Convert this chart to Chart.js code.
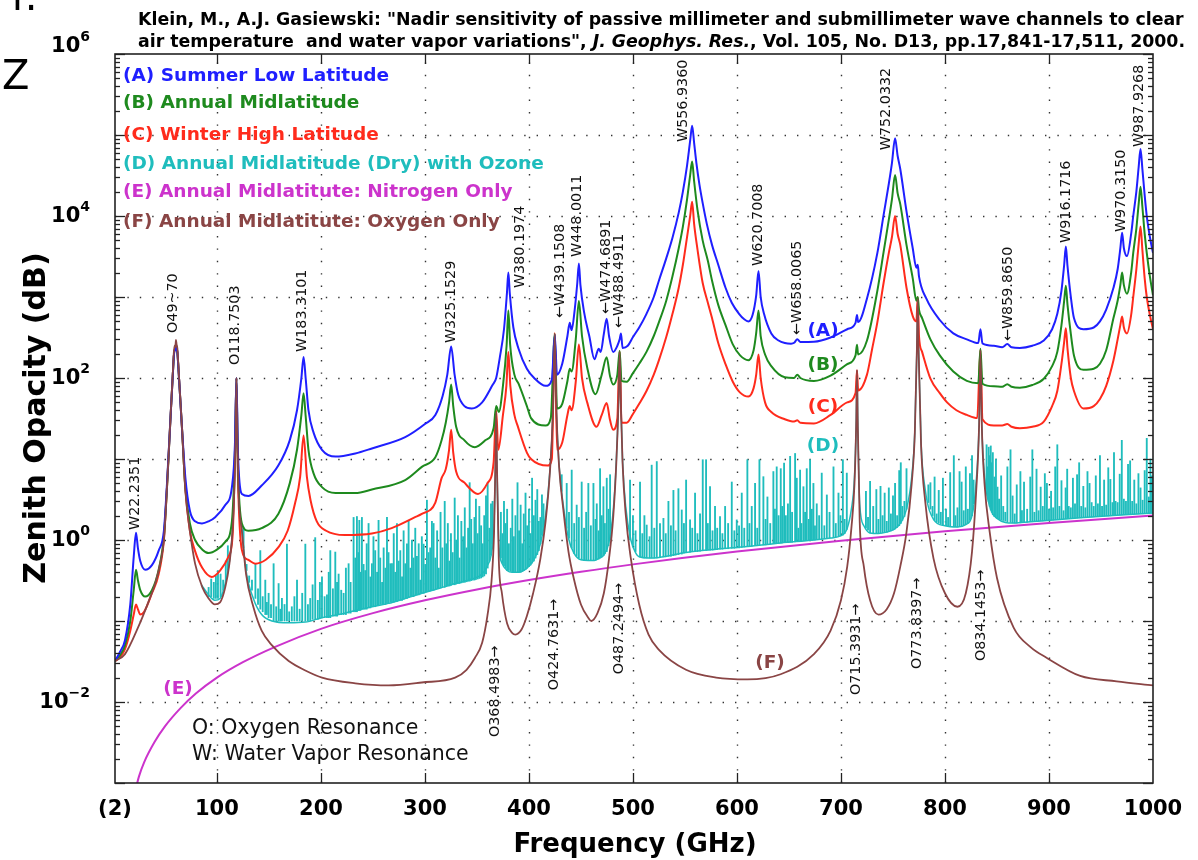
<!DOCTYPE html>
<html>
<head>
<meta charset="utf-8">
<title>Nadir zenith opacity</title>
<script src="https://cdn.jsdelivr.net/npm/chart.js@4.4.1/dist/chart.umd.min.js"></script>
<style>
  html, body { margin: 0; padding: 0; background: #fff; overflow: hidden; }
  canvas { display: block; }
</style>
</head>
<body>
<canvas id="myChart" width="1198" height="860"></canvas>
<script>
// tick positions on the frequency axis (GHz)
const xTickValues = [2, 100, 200, 300, 400, 500, 600, 700, 800, 900, 1000];
// decades that carry a label on the opacity axis
const yLabelDecades = [6, 4, 2, 0, -2];

// (A) Summer Low Latitude  [GHz, dB]
const seriesA = [[2,0.032],[7,0.042],[11.6,0.058],[16.7,0.16],[20,0.62],[22.2,1.23],[24,0.8],[26.3,0.55],[31,0.43],[37.5,0.49],[44,0.74],[49,1.3],[52,5],[55.4,33],[57.5,105],[58.5,180],[59.3,225],[60,220],[60.6,260],[61.2,235],[62,205],[63,130],[64,80],[66.5,23],[69.6,6],[74,2.3],[79,1.7],[85.6,1.6],[92,1.7],[98,1.9],[108,2.7],[114.4,4.5],[117.3,15],[118.75,100],[120.2,12],[124,3.7],[130.4,3.5],[143,4.7],[159,8.3],[170,17],[177,40],[181.2,100],[183.3,182],[185.3,100],[188,40],[193,21],[201,13],[214,10.7],[233,11.7],[249,13.5],[281,18.6],[300,27],[310,35],[317,60],[321.5,110],[325.2,245],[328.5,110],[332,62],[338,45],[345,42],[355,50],[365,82],[368.5,100],[372,180],[376,400],[378.8,1100],[380.2,2000],[381.6,1100],[385,420],[390,230],[398,130],[405,100],[416,80],[422,95],[424.8,340],[427,110],[432,150],[437,330],[439.2,480],[441,390],[444,700],[446.5,1500],[448,2600],[449.5,1400],[453,650],[458,330],[463,170],[467,230],[469,210],[472,350],[474.7,540],[477,330],[481,210],[485,250],[487.2,300],[488.5,355],[490,235],[495,250],[500,320],[506,420],[513,620],[520,1000],[525,1600],[532,3000],[538,5400],[544,11000],[548,20000],[552,42000],[555,85000],[556.9,130000],[558.8,80000],[561,45000],[564,24000],[567,14500],[571,8000],[576,4400],[582,2500],[589,1300],[595,850],[602,620],[607,530],[611,500],[615,600],[618.5,1050],[620.7,2100],[622.8,1000],[626,620],[633,355],[640,290],[646,270],[652,265],[655,272],[658,300],[661,278],[674,280],[690,316],[706,400],[714,480],[715.4,600],[716.5,490],[725,960],[735,3500],[741,10300],[746,25000],[749,45000],[752,91000],[754.5,55000],[757,38000],[763,11400],[769,4000],[772.5,2300],[773.8,2500],[775,1800],[782,960],[795,520],[808,355],[821,300],[832,270],[834.1,400],[836,268],[847,250],[855,240],[859.9,262],[864,240],[872,235],[884,250],[895,290],[903,400],[908,620],[912,1200],[914.6,2500],[916.2,4200],[917.8,2400],[921,1000],[924,550],[933,400],[943,420],[949,500],[955,700],[962,1300],[966,2200],[968.6,4000],[970.3,6200],[972,4000],[975,3200],[979,6000],[981,10000],[984,20000],[986.2,40000],[988,67000],[989.8,38000],[992,18000],[994,10000],[997,5500],[1000,3500]];

// (B) Annual Midlatitude
const seriesB = [[2,0.032],[7,0.038],[11.6,0.05],[16.7,0.10],[20,0.24],[22.2,0.43],[24,0.32],[26.3,0.24],[31,0.2],[37.5,0.24],[44,0.43],[49,1.1],[52,4.5],[55.4,33],[57.5,105],[58.5,180],[59.3,225],[60,220],[60.6,255],[61.2,235],[62,205],[63,130],[64,80],[66.5,23],[69.6,4.5],[74,1.6],[79,1.0],[86,0.76],[92,0.69],[100,0.76],[108,0.95],[114.4,1.7],[117.3,12],[118.75,100],[120.2,8],[124,1.6],[130,1.3],[143,1.4],[159,2.1],[170,5],[177,13],[181.2,35],[183.3,65],[185.3,34],[188,13],[193,6.6],[201,4.5],[214,3.8],[233,3.8],[249,4.2],[281,5.5],[297,8],[310,10.5],[316,17],[320,28],[323.2,50],[325.2,83],[327.2,45],[330,25],[338,17],[348,14],[358,17],[366,24],[368.5,45],[371,38],[375,80],[378.5,250],[380.2,680],[381.9,260],[386,110],[390,85],[398,45],[402,32],[416,26],[421,32],[424.8,350],[427,42],[432,48],[437,92],[439.2,130],[441,120],[445,300],[448,890],[451,330],[456,135],[464,63],[470,110],[474.7,180],[478,105],[481,83],[485,110],[487.2,215],[489,92],[494,90],[500,115],[506,150],[513,210],[520,330],[525,490],[532,900],[538,1800],[544,4000],[548,7400],[552,16000],[555,32000],[556.9,47000],[558.8,27000],[562,12000],[567,5000],[572,2800],[576,1600],[582,800],[589,450],[596,260],[603,190],[611,166],[616,220],[618.5,360],[620.7,680],[622.8,330],[627,195],[633,140],[646,102],[655,100],[658,110],[661,100],[674,92],[690,107],[706,148],[714,190],[715.4,257],[716.5,195],[725,290],[735,1200],[741,3600],[746,9000],[749,16000],[752,32000],[754.5,19000],[757,14000],[763,4400],[769,1700],[772.5,900],[773.8,1000],[775,700],[778,550],[786,300],[795,190],[808,120],[821,92],[832,86],[834.1,230],[836,85],[847,79],[855,78],[859.9,84],[864,78],[872,76],[884,82],[895,98],[903,140],[908,210],[912,450],[914.6,900],[916.2,1380],[917.8,800],[921,350],[924,190],[933,126],[943,130],[949,150],[955,220],[962,550],[966,900],[968.6,1400],[970.3,2000],[972,1400],[975,1100],[979,2000],[981,3500],[984,7000],[986.2,14000],[988,23000],[989.8,13000],[992,6000],[994,3500],[997,1800],[1000,1050]];

// (C) Winter High Latitude
const seriesC = [[2,0.032],[7,0.036],[11.6,0.045],[16.7,0.076],[20,0.12],[22.2,0.16],[24,0.14],[26.3,0.12],[30,0.13],[37.5,0.22],[44,0.38],[49,1.0],[52,4.5],[55.4,33],[57.5,105],[58.5,180],[59.3,225],[60,220],[60.6,255],[61.2,235],[62,205],[63,130],[64,80],[66.5,23],[69.6,4.5],[74,1.3],[79,0.73],[86,0.45],[95,0.35],[103,0.42],[111,0.62],[115,1.1],[117.3,10],[118.75,100],[120.2,6],[124,0.75],[130,0.57],[137,0.51],[147,0.57],[159,0.81],[168,1.3],[175,2.8],[180,6],[183.3,19.5],[186.5,6],[190,3.1],[196,1.7],[205,1.3],[223,1.15],[249,1.2],[268,1.4],[290,1.9],[297,2.1],[310,2.9],[316,5.8],[320,7.5],[323.2,13],[325.2,23],[327.2,12],[330,7],[338,5.1],[351,3.7],[360,5],[366,9],[368.5,40],[370.5,13],[375,35],[378.3,80],[380.2,210],[382.1,80],[386,35],[389,26],[398,12],[402,10],[418,8.3],[422,10],[424.8,360],[427,13],[432,16],[437,35],[439.2,45],[441,40],[445,90],[448,260],[451,100],[456,50],[465,25],[470,35],[474.7,49],[478,30],[481,23],[485,32],[487.2,215],[489,28],[494,28],[500,36],[506,48],[513,69],[520,110],[525,166],[532,320],[538,620],[544,1300],[548,2500],[552,5500],[555,10000],[556.9,15000],[558.8,8000],[562,3900],[567,1500],[572,850],[576,550],[582,270],[589,148],[596,90],[603,66],[611,59],[616,75],[618.5,110],[620.7,195],[622.8,100],[627,50],[633,38],[646,31],[655,29],[658,30],[661,28],[674,27.5],[690,35],[706,50],[714,65],[715.4,125],[716.5,70],[725,110],[730,230],[735,490],[741,1500],[746,3500],[749,5500],[752,10000],[754.5,6000],[757,4400],[763,1300],[769,580],[772.5,500],[773.8,1000],[775,330],[778,210],[786,98],[795,65],[802,50],[811,40],[821,35],[831,32],[834.1,225],[836,31],[847,26],[855,26],[859.9,27],[864,25],[872,24],[884,25],[895,29],[903,45],[908,69],[912,150],[914.6,280],[916.2,410],[917.8,230],[921,100],[924,69],[933,42],[943,45],[949,55],[955,80],[962,166],[966,300],[968.6,450],[970.3,575],[972,420],[975,355],[979,600],[981,1000],[984,2200],[986.2,4500],[988,7400],[989.8,3800],[992,1700],[994,1000],[997,600],[1000,400]];

// (D) Annual Midlatitude (Dry) with Ozone: smooth floor of the curve
const seriesDFloor = [[85,0.28],[92,0.21],[98,0.18],[103,0.19],[108,0.29],[112,0.54],[115,1.32],[117,5.5],[118.1,25],[118.75,100],[119.4,25],[121,3.45],[124,1.35],[128,0.42],[135,0.19],[143,0.12],[153,0.1],[169,0.095],[185,0.097],[201,0.11],[217,0.12],[233,0.135],[249,0.15],[265,0.165],[281,0.19],[297,0.22],[310,0.245],[329,0.29],[345,0.33],[355,0.38],[360,0.48],[364,0.7],[366.5,1.6],[367.8,9.2],[368.5,38],[369.2,9.2],[371,0.9],[374,0.52],[379,0.42],[384,0.4],[390,0.4],[398,0.45],[404,0.55],[411,0.9],[416,2.0],[420,6.8],[423,36],[424.8,350],[426.5,36],[429,8.3],[433,2.7],[438,1.05],[443,0.7],[450,0.57],[457,0.56],[463,0.56],[468,0.6],[472,0.65],[477,0.95],[481,2.3],[484,9.5],[486,46],[487.2,210],[488.4,46],[490,9.5],[493,2.6],[498,1.0],[503,0.68],[506,0.62],[515,0.6],[525,0.61],[551,0.7],[580,0.77],[610,0.83],[642,0.92],[674,1.0],[690,1.06],[700,1.13],[706,1.4],[710,2.4],[713,6],[714.7,30],[715.4,125],[716.1,30],[718,2.8],[722,1.5],[728,1.22],[736,1.2],[744,1.25],[751,1.35],[757,1.6],[763,2.4],[768,6],[771,22],[773,230],[773.8,950],[774.6,230],[777,16],[781,4.2],[789,1.8],[800,1.5],[812,1.45],[820,1.55],[826,2.0],[830,5.3],[832.8,27],[834.1,220],[835.4,27],[838,6.3],[843,2.6],[850,1.85],[866,1.62],[882,1.68],[898,1.74],[930,1.88],[965,2.02],[1000,2.15]];

// (D) ozone / trace-gas lines: [GHz, floor dB, top dB]
const seriesDLines = [
  [92,0.2,0.26],[94.5,0.2,0.33],[97,0.19,0.3],[99,0.19,0.36],[101,0.19,0.42],[103.5,0.2,0.38],[106,0.24,0.32],[108.5,0.3,0.55],[110.5,0.42,0.85],
  [125.6,0.8,1.45],[128.5,0.42,0.5],[131,0.3,0.36],[133.7,0.24,0.32],[137,0.19,0.51],[139.5,0.16,0.25],[141.7,0.14,0.74],[144,0.13,0.2],[146.5,0.12,0.32],[148,0.12,0.17],[149.7,0.11,0.22],
  [152,0.11,0.16],[154.5,0.1,0.51],[157,0.1,0.15],[159.3,0.1,0.29],[161,0.1,0.14],[162.5,0.1,0.19],[165,0.1,0.16],[167.3,0.1,0.89],[169.5,0.1,0.13],[172,0.1,0.15],[174.5,0.1,0.2],[177,0.1,0.32],[179.5,0.1,0.14],
  [182,0.1,0.22],[185,0.1,0.89],[187.5,0.1,0.16],[189.7,0.1,0.19],[192,0.105,0.28],[194.5,0.105,1.07],[197,0.105,0.18],[199,0.11,0.3],[201,0.11,0.35],[203.5,0.11,0.2],[205.8,0.11,0.21],[207.5,0.11,0.4],[209,0.11,0.74],
  [211.5,0.115,0.25],[213.8,0.115,0.71],[215.5,0.115,0.3],[217,0.12,0.38],[219.5,0.12,0.24],[221.8,0.12,0.22],[224,0.12,0.45],[226.6,0.125,0.51],[228.5,0.125,0.3],[231.4,0.13,1.9],[233,0.13,0.6],[234.6,0.13,1.95],
  [236,0.135,0.7],[236.9,0.135,1.75],[238,0.135,0.4],[239.4,0.14,1.9],[241,0.14,0.5],[242.6,0.14,0.42],[244,0.14,0.9],[245.8,0.145,1.6],[247.5,0.145,0.35],[249,0.15,0.51],[250.5,0.15,1.1],[252.2,0.15,0.74],
  [254,0.155,0.4],[255.4,0.155,1.75],[257,0.16,0.6],[258.8,0.16,0.3],[260.3,0.16,0.8],[262,0.16,0.45],[263.5,0.165,1.9],[265,0.165,0.7],[266.7,0.17,0.51],[268.3,0.17,0.51],[270,0.17,1.2],[271.5,0.175,0.4],
  [273.1,0.175,1.6],[274.7,0.18,0.55],[276.3,0.18,0.74],[278,0.18,0.35],[279.5,0.185,1.3],[281.1,0.19,0.51],[282.7,0.19,0.9],[284.3,0.195,1.75],[286,0.2,0.45],[287.5,0.2,1.0],[289,0.2,0.6],[290.7,0.205,1.4],
  [292.3,0.21,0.63],[294,0.21,0.9],[295.5,0.215,0.32],[297,0.22,1.1],[298.7,0.22,0.89],[300.3,0.225,0.5],[301.9,0.23,3.1],[303.5,0.23,0.7],[305.1,0.235,0.8],[306.7,0.24,1.7],[308.3,0.24,1.6],[310,0.245,0.6],
  [311.7,0.25,1.3],[313.3,0.25,0.45],[315,0.255,2.2],[316.7,0.26,0.8],[319,0.26,3.0],[320.5,0.265,0.9],[322,0.27,1.6],[323.5,0.27,0.55],[325,0.275,1.2],[326.7,0.28,0.7],[328.6,0.28,3.3],[330,0.285,1.0],
  [331.7,0.29,2.0],[333.3,0.29,0.6],[335,0.295,1.7],[336.7,0.3,1.1],[338.3,0.3,2.5],[340,0.305,0.8],[341.5,0.31,1.4],[343,0.31,5.1],[344.5,0.315,1.8],[346,0.32,0.9],[347.6,0.32,1.9],[349,0.325,3.2],
  [350.7,0.33,1.2],[352.3,0.335,2.6],[354,0.34,1.5],[355.5,0.35,0.9],[357,0.36,2.0],[358.7,0.38,3.5],[360.3,0.45,5.1],[362,0.55,1.4],[363.5,0.65,2.8],[365,0.9,3.0],
  [373,0.6,2.2],[374.5,0.52,1.2],[376,0.48,3.0],[377.5,0.45,1.6],[379,0.42,2.4],[380.7,0.42,0.9],[382.5,0.41,1.4],[384,0.4,3.2],[385.5,0.4,1.1],[387,0.4,2.0],[389,0.4,5.1],[390.5,0.4,1.3],[392,0.4,2.7],
  [393.5,0.41,0.9],[395,0.42,2.1],[396.7,0.43,3.8],[398.3,0.45,1.5],[400,0.47,2.4],[401.5,0.49,1.2],[403,0.52,5.8],[404.7,0.55,2.0],[406.3,0.6,3.1],[408,0.66,4.2],[409.5,0.74,1.7],[411,0.9,1.9],[412.5,1.15,3.6],[414,1.45,2.8],
  [431.5,4.0,6.4],[436.3,1.4,5.0],[438.5,1.05,2.2],[441.1,0.8,7.3],[443.5,0.68,1.6],[445.9,0.63,2.7],[448,0.6,1.9],[450.7,0.57,5.2],[453,0.56,1.4],[455,0.56,2.2],[457.1,0.56,5.0],[459.5,0.56,1.5],
  [462,0.56,5.0],[464,0.56,1.8],[465.2,0.57,2.8],[467,0.58,1.3],[468.4,0.6,7.6],[470,0.62,2.0],[471.6,0.64,4.55],[473,0.68,1.6],[474.8,0.72,5.8],[476.5,0.85,2.4],[478,1.0,6.4],
  [497.2,1.0,5.5],[500,0.85,2.0],[502.5,0.72,1.3],[506.8,0.62,5.2],[509,0.61,1.2],[511,0.6,2.0],[513.2,0.6,1.53],[516,0.6,1.1],[518,0.6,8.4],[520.5,0.6,1.4],[522.9,0.6,9.3],[526,0.61,1.6],
  [529.3,0.62,1.85],[531.5,0.62,1.2],[534.1,0.63,3.0],[536.5,0.63,1.5],[538.9,0.64,4.1],[541,0.65,1.3],[543.7,0.66,4.3],[546.9,0.67,2.35],[549,0.69,1.6],[551.1,0.7,5.5],[554.9,0.71,1.77],[557,0.72,1.4],
  [559.7,0.72,3.8],[562,0.72,1.2],[564.5,0.73,2.1],[567.1,0.74,9.8],[570.3,0.74,9.8],[572,0.75,1.6],[574.1,0.75,4.55],[576.5,0.75,1.3],[578.9,0.76,2.6],[581,0.76,1.4],[583.7,0.77,1.95],[586,0.77,1.2],
  [588.6,0.78,2.6],[591.5,0.78,1.6],[595,0.79,5.2],[597.5,0.79,1.3],[599.8,0.8,1.77],[602,0.8,1.5],[604.6,0.81,3.8],[607,0.82,1.4],[610,0.83,9.8],[612,0.83,1.6],[614.2,0.84,2.6],[617.4,0.85,5.0],
  [619.5,0.85,1.4],[621.6,0.86,9.8],[625.4,0.87,6.05],[627.5,0.87,1.8],[629.3,0.88,3.4],[632,0.89,1.6],[635,0.9,7.0],[636.5,0.9,2.4],[638.2,0.9,8.0],[640,0.91,2.0],[642.1,0.92,7.6],[643.5,0.92,2.6],
  [645.3,0.93,8.9],[647,0.93,2.0],[649,0.93,2.8],[651.1,0.94,10.8],[653,0.94,2.2],[655.9,0.95,11.7],[657.5,0.96,5.8],[659,0.96,1.4],[660.7,0.97,7.3],[662,0.97,1.6],[663.9,0.98,4.55],[665.5,0.98,2.2],
  [667.1,0.99,7.6],[669,0.99,1.8],[670.3,0.99,9.8],[672,0.99,2.4],[673.5,1.0,5.0],[675,1.0,1.5],[676.7,1.01,2.8],[679,1.02,2.0],[681.5,1.03,6.7],[684,1.04,1.5],[686.4,1.05,3.6],[689,1.06,2.2],
  [692.8,1.08,8.0],[695,1.09,1.6],[697.6,1.11,3.8],[699.5,1.12,2.0],[701.8,1.15,9.8],[703.5,1.2,1.8],[705.6,1.35,6.7],
  [724,1.4,4.0],[726,1.32,1.9],[728,1.22,5.3],[731,1.21,2.6],[734,1.2,4.2],[736,1.2,1.8],[738,1.22,4.6],[740,1.23,2.0],[742,1.24,3.8],[744,1.25,1.7],[746,1.27,4.4],[748,1.3,2.1],
  [750,1.33,3.5],[752,1.37,5.0],[754,1.43,2.0],[756,1.5,7.2],[757.5,1.6,9.0],[759,1.75,2.6],[761,1.95,3.0],[763,2.4,7.6],
  [784,2.9,4.8],[786,2.4,5.1],[788,2.0,2.6],[790,1.75,6.0],[792,1.68,2.1],[794,1.62,4.1],[796,1.58,2.2],[798,1.54,5.8],[801,1.5,2.4],[803,1.49,1.9],[805,1.48,6.8],[808.5,1.46,11],[810,1.46,2.0],
  [812,1.45,2.5],[814,1.46,7.0],[816,1.47,5.2],[818,1.5,2.3],[820,1.55,8.0],[822,1.62,2.4],[824,1.75,6.6],[826,2.0,11],[827.5,2.8,5.5],
  [840,4.2,15],[841,3.5,8],[842,3.0,14],[843,2.6,11],[844,2.35,14.5],[845,2.2,9],[846,2.05,12],[847.5,1.95,6],[849,1.88,10],[850.5,1.84,4.5],[852,1.8,3.2],
  [854,1.77,6.2],[856,1.74,2.6],[858,1.71,2.2],[860,1.68,8.0],[863,1.65,13],[865,1.63,3.5],[867,1.62,2.1],[869,1.62,4.8],[872.5,1.63,7.0],[874,1.64,2.3],[876,1.64,5.2],[879,1.66,2.4],
  [882,1.68,6.0],[884,1.68,13],[886,1.69,2.2],[888,1.7,7.5],[890,1.71,2.3],[892,1.72,4.5],[894,1.72,2.6],[896,1.73,6.6],[898,1.74,5.0],[900,1.75,2.4],[902,1.76,4.0],[904,1.77,2.5],
  [906,1.78,8.0],[908,1.79,15],[910,1.8,2.6],[912,1.81,5.4],[914,1.82,2.3],[916,1.83,4.4],[917.5,1.83,7.5],[919,1.84,2.6],[921,1.85,2.5],[923,1.85,5.8],[925,1.86,2.8],[927,1.87,6.4],
  [929,1.88,9.0],[931,1.88,2.6],[933,1.89,4.6],[935,1.9,2.5],[937,1.91,7.0],[939,1.92,5.0],[941,1.92,2.9],[943,1.93,2.6],[945,1.94,6.2],[947,1.95,2.8],[949,1.95,11],[951,1.96,2.6],
  [953,1.97,5.5],[955,1.98,2.7],[957,1.98,7.8],[959,1.99,5.6],[961,2.0,2.9],[962.5,2.0,12],[964,2.01,3.0],[966,2.02,2.9],[968,2.03,6.5],[970,2.04,17],[972,2.05,3.2],[974,2.05,3.0],
  [976,2.06,8.6],[978,2.07,9.5],[980,2.08,3.0],[982,2.09,5.5],[984,2.1,2.8],[986,2.1,6.6],[988,2.11,4.4],[990,2.11,3.1],[992,2.12,7.2],[994,2.13,18],[996,2.13,3.4],[997.5,2.14,10],[999,2.15,6.2]
];

// (E) Annual Midlatitude: Nitrogen Only
const seriesE = [[22,0.00085],[25,0.0012],[30,0.0018],[40,0.0032],[50,0.005],[65,0.0084],[80,0.0128],[100,0.02],[125,0.031],[156,0.048],[200,0.08],[250,0.125],[300,0.18],[350,0.245],[400,0.32],[450,0.405],[500,0.5],[600,0.72],[700,0.98],[800,1.28],[900,1.62],[1000,2.0]];

// (F) Annual Midlatitude: Oxygen Only
const seriesF = [[2,0.032],[11.6,0.039],[24.5,0.085],[34,0.17],[41,0.30],[45.5,0.52],[49,1.0],[52,4.5],[55.4,33],[57.5,110],[58.5,200],[59.3,250],[60,240],[60.6,295],[61.2,260],[62,230],[63,140],[64,82],[66.5,23],[69.6,4.1],[74,1.3],[79,0.51],[86,0.26],[92,0.19],[98,0.16],[103,0.17],[108,0.26],[112,0.51],[115,1.3],[117,5.5],[118.1,25],[118.75,100],[119.4,25],[121,3.4],[124,1.3],[128,0.38],[135,0.15],[143,0.076],[153,0.05],[169,0.032],[185,0.0245],[201,0.02],[233,0.017],[265,0.016],[297,0.0174],[329,0.02],[340,0.025],[348,0.035],[355,0.054],[360,0.115],[364,0.31],[366.5,1.3],[367.8,9],[368.5,38],[369.2,9],[371,0.58],[374,0.22],[379,0.093],[384,0.071],[387,0.068],[393,0.079],[398,0.115],[404,0.22],[411,0.59],[416,1.7],[420,6.5],[423,36],[424.8,350],[426.5,36],[429,8],[433,2.4],[438,0.72],[443,0.34],[450,0.16],[457,0.11],[460,0.1],[466,0.126],[472,0.22],[477,0.59],[481,1.9],[484,9],[486,46],[487.2,210],[488.4,46],[490,9],[493,2.1],[498,0.59],[506,0.16],[515,0.068],[525,0.044],[551,0.025],[580,0.02],[610,0.019],[642,0.022],[674,0.039],[690,0.076],[700,0.18],[706,0.47],[710,1.4],[713,5],[714.7,30],[715.4,125],[716.1,30],[718,1.7],[722,0.47],[728,0.18],[736,0.12],[744,0.14],[751,0.22],[757,0.47],[763,1.25],[768,5],[771,21],[773,230],[773.8,950],[774.6,230],[777,15],[781,3],[789,0.59],[800,0.22],[812,0.15],[820,0.22],[826,0.72],[830,4],[832.8,26],[834.1,220],[835.4,26],[838,5],[843,1.25],[850,0.34],[866,0.083],[882,0.048],[898,0.035],[930,0.021],[965,0.018],[1000,0.016]];

// resonance annotations: [text, GHz at label centre, dB at label start]
const resonanceLabels = [
  ['W22.2351', 21.7, 1.33], ['O49~70', 57.8, 360], ['O118.7503', 117.4, 145], ['W183.3101', 181.8, 210],
  ['W325.1529', 325.1, 270], ['W380.1974', 391.4, 1290], ['\u2190W439.1508', 429.9, 550], ['W448.0011', 446.2, 3120],
  ['\u2190W474.6891', 474.1, 617], ['\u2190W488.4911', 486.6, 414], ['W556.9360', 548.5, 82000], ['W620.7008', 620.3, 2420],
  ['\u2190W658.0065', 657.8, 340], ['W752.0332', 743.4, 65000], ['\u2190W859.8650', 860.6, 286], ['W916.1716', 916.4, 4650],
  ['W970.3150', 969.3, 6340], ['W987.9268', 986.6, 71000],
  ['O368.4983\u2192', 367.4, 0.0037], ['O424.7631\u2192', 424.1, 0.014], ['O487.2494\u2192', 486.6, 0.022],
  ['O715.3931\u2192', 714.5, 0.0122], ['O773.8397\u2192', 773.2, 0.0255], ['O834.1453\u2192', 834.7, 0.032]
];

const seriesNames = [
  '(A) Summer Low Latitude',
  '(B) Annual Midlatitude',
  '(C) Winter High Latitude',
  '(D) Annual Midlatitude (Dry) with Ozone',
  '(E) Annual Midlatitute: Nitrogen Only',
  '(F) Annual Midlatitute: Oxygen Only'
];

const colA = '#1f1fff', colB = '#1e8a1e', colC = '#ff2b1c';
const colD = '#1fbdbd', colE = '#cc33cc', colF = '#8a4545';
const seriesColors = [colA, colB, colC, colD, colE, colF];
const FONT = '"DejaVu Sans", sans-serif';

const titleLine1 = 'Klein, M., A.J. Gasiewski: "Nadir sensitivity of passive millimeter and submillimeter wave channels to clear';
const titleLine2 = [
  ['air temperature  and water vapor variations", ', false],
  ['J. Geophys. Res.', true],
  [', Vol. 105, No. D13, pp.17,841-17,511, 2000.', false]
];

function line(ctx, x1, y1, x2, y2) {
  ctx.beginPath();
  ctx.moveTo(x1, y1);
  ctx.lineTo(x2, y2);
  ctx.stroke();
}

// grid, frame, tick marks and all the annotation text
const decorations = {
  id: 'decorations',
  beforeDatasetsDraw(chart) {
    const { ctx, chartArea: a, scales: { x, y } } = chart;
    ctx.save();
    ctx.strokeStyle = '#333';
    ctx.lineWidth = 1.4;
    ctx.setLineDash([1.4, 11]);
    xTickValues.slice(1, -1).forEach(v => {
      const px = Math.round(x.getPixelForValue(v)) + 0.5;
      line(ctx, px, a.bottom, px, a.top);
    });
    for (let e = -2; e <= 5; e++) {
      const py = Math.round(y.getPixelForValue(Math.pow(10, e))) + 0.5;
      line(ctx, a.left, py, a.right, py);
    }
    ctx.restore();
  },
  afterDatasetsDraw(chart) {
    const { ctx, chartArea: a, scales: { x, y } } = chart;
    ctx.save();

    // frame
    ctx.strokeStyle = '#222';
    ctx.lineWidth = 1.6;
    ctx.strokeRect(a.left, a.top, a.right - a.left, a.bottom - a.top);

    // x tick marks, bottom and top
    ctx.lineWidth = 1.3;
    xTickValues.slice(1, -1).forEach(v => {
      const px = Math.round(x.getPixelForValue(v)) + 0.5;
      line(ctx, px, a.bottom, px, a.bottom - 10);
      line(ctx, px, a.top, px, a.top + 10);
    });

    // y tick marks, major at decades and minor in between
    for (let e = -3; e <= 6; e++) {
      for (let m = 1; m <= 9; m++) {
        const v = m * Math.pow(10, e);
        if (v > 1e6) break;
        const py = Math.round(y.getPixelForValue(v)) + 0.5;
        const len = m === 1 ? 10 : 5;
        line(ctx, a.left, py, a.left + len, py);
        line(ctx, a.right, py, a.right - len, py);
      }
    }

    // resonance labels, rotated
    ctx.fillStyle = '#111';
    ctx.font = '14.3px ' + FONT;
    ctx.textAlign = 'left';
    ctx.textBaseline = 'middle';
    resonanceLabels.forEach(([txt, f, v]) => {
      ctx.save();
      ctx.translate(x.getPixelForValue(f), y.getPixelForValue(v));
      ctx.rotate(-Math.PI / 2);
      ctx.fillText(txt, 0, 0);
      ctx.restore();
    });

    // legend text in the upper left
    const rowY = [76, 103, 135, 164, 192, 222];
    ctx.font = 'bold 18.5px ' + FONT;
    seriesNames.forEach((name, i) => {
      ctx.fillStyle = seriesColors[i];
      ctx.fillText(name, 123, rowY[i]);
    });

    // curve tags
    ctx.textAlign = 'center';
    [['(A)', colA, 823, 331], ['(B)', colB, 823, 365], ['(C)', colC, 823, 407],
     ['(D)', colD, 823, 446], ['(E)', colE, 178, 689], ['(F)', colF, 770, 663]].forEach(([t, c, px, py]) => {
      ctx.fillStyle = c;
      ctx.fillText(t, px, py);
    });

    // key to the letters
    ctx.textAlign = 'left';
    ctx.fillStyle = '#111';
    ctx.font = '20.5px ' + FONT;
    ctx.fillText('O: Oxygen Resonance', 192, 729);
    ctx.fillText('W: Water Vapor Resonance', 192, 755);
    ctx.restore();
  },
  afterDraw(chart) {
    const { ctx, scales: { y } } = chart;
    ctx.save();
    ctx.fillStyle = '#000';
    ctx.textBaseline = 'middle';

    // y tick labels as 10 with a raised exponent
    yLabelDecades.forEach(e => {
      const py = y.getPixelForValue(Math.pow(10, e)) + (e === 6 ? -7 : 1);
      const expTxt = e < 0 ? '\u2212' + (-e) : String(e);
      ctx.font = 'bold 14px ' + FONT;
      const we = ctx.measureText(expTxt).width;
      ctx.font = 'bold 21px ' + FONT;
      const wb = ctx.measureText('10').width;
      ctx.textAlign = 'left';
      ctx.fillText('10', 90 - we - wb, py);
      ctx.font = 'bold 14px ' + FONT;
      ctx.fillText(expTxt, 90 - we, py - 10);
    });

    // axis titles
    ctx.textAlign = 'center';
    ctx.font = 'bold 26px ' + FONT;
    ctx.fillText('Frequency (GHz)', 635, 845);
    ctx.save();
    ctx.translate(37, 418);
    ctx.rotate(-Math.PI / 2);
    ctx.font = 'bold 30px ' + FONT;
    ctx.fillText('Zenith Opacity (dB)', 0, 0);
    ctx.restore();

    // two-line citation at the top, sized to span the plot
    ctx.textAlign = 'left';
    ctx.font = 'bold 16px ' + FONT;
    const size = 16 * 1046 / ctx.measureText(titleLine1).width;
    ctx.font = 'bold ' + size + 'px ' + FONT;
    ctx.fillText(titleLine1, 138, 20);
    let cx = 138;
    titleLine2.forEach(([txt, italic]) => {
      ctx.font = (italic ? 'italic ' : '') + 'bold ' + size + 'px ' + FONT;
      ctx.fillText(txt, cx, 42);
      cx += ctx.measureText(txt).width;
    });

    // fragments of the surrounding page
    ctx.font = '40px ' + FONT;
    ctx.textBaseline = 'alphabetic';
    ctx.fillText('Z', 2, 89);
    ctx.fillText('r.', 12, 10);
    ctx.restore();
  }
};

function lineSet(data, color, order, width) {
  return {
    type: 'line',
    data: data,
    borderColor: color,
    backgroundColor: color,
    borderWidth: width,
    pointRadius: 0,
    fill: false,
    cubicInterpolationMode: 'monotone',
    order: order
  };
}

const ctx = document.getElementById('myChart').getContext('2d');
const myChart = new Chart(ctx, {
  type: 'line',
  data: {
    datasets: [
      lineSet(seriesF, colF, 0, 1.8),
      lineSet(seriesA, colA, 1, 2),
      lineSet(seriesB, colB, 2, 2),
      lineSet(seriesC, colC, 3, 2),
      lineSet(seriesE, colE, 4, 2),
      lineSet(seriesDFloor, colD, 5, 1.5),
      {
        type: 'bar',
        data: seriesDLines.map(([f, lo, hi]) => ({ x: f, y: [lo, hi] })),
        backgroundColor: colD,
        borderWidth: 0,
        barThickness: 1.2,
        grouped: false,
        order: 6
      }
    ]
  },
  options: {
    responsive: false,
    animation: false,
    layout: { padding: { top: 54, right: 45, left: 0, bottom: 0 } },
    plugins: {
      legend: { display: false },
      tooltip: { enabled: false },
      title: { display: false }
    },
    scales: {
      x: {
        type: 'linear',
        min: 2,
        max: 1000,
        offset: false,
        afterBuildTicks: s => { s.ticks = xTickValues.map(v => ({ value: v })); },
        afterFit: s => { s.height = 77; },
        grid: { display: false, drawTicks: false },
        border: { display: false },
        ticks: {
          autoSkip: false,
          maxRotation: 0,
          minRotation: 0,
          padding: 14,
          color: '#000',
          font: { family: 'DejaVu Sans', size: 21, weight: 'bold' },
          callback: v => (v === 2 ? '(2)' : String(v))
        }
      },
      y: {
        type: 'logarithmic',
        min: 1e-3,
        max: 1e6,
        afterFit: s => { s.width = 115; },
        grid: { display: false, drawTicks: false },
        border: { display: false },
        ticks: { display: false }
      }
    }
  },
  plugins: [decorations]
});
</script>
</body>
</html>
